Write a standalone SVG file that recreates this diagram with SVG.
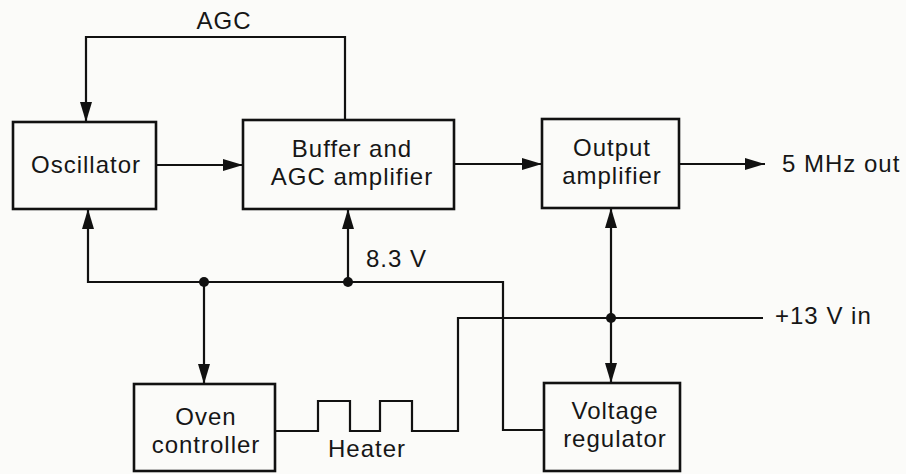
<svg xmlns="http://www.w3.org/2000/svg" width="906" height="474" viewBox="0 0 906 474">
<defs>
<marker id="ah" viewBox="0 0 20 12" refX="20" refY="6" markerWidth="20" markerHeight="12" markerUnits="userSpaceOnUse" orient="auto">
<path d="M0,0 L20,6 L0,12 Z" fill="#111"/>
</marker>
<style>
.box{fill:none;stroke:#111;stroke-width:2.6}
.w{fill:none;stroke:#111;stroke-width:2.2;stroke-linejoin:miter}
.a{marker-end:url(#ah)}
.t{font-family:"Liberation Sans",Arial,sans-serif;font-size:24px;fill:#161616;letter-spacing:1px}
.c{text-anchor:middle}
.dot{fill:#111}
</style>
</defs>
<rect width="906" height="474" fill="#fbfbf9"/>
<g id="oscillator">
<rect class="box" x="13" y="122" width="143" height="87"/>
<text class="t c" x="86" y="173">Oscillator</text>
</g>
<g id="buffer">
<rect class="box" x="243" y="120" width="211" height="89"/>
<text class="t c" x="352" y="157">Buffer and</text>
<text class="t c" x="352" y="185">AGC amplifier</text>
</g>
<g id="output">
<rect class="box" x="542" y="119" width="137" height="89"/>
<text class="t c" x="612" y="156">Output</text>
<text class="t c" x="612" y="184">amplifier</text>
</g>
<g id="oven">
<rect class="box" x="134" y="384" width="141" height="87"/>
<text class="t c" x="206" y="425">Oven</text>
<text class="t c" x="206" y="453">controller</text>
</g>
<g id="regulator">
<rect class="box" x="544" y="383" width="136" height="88"/>
<text class="t c" x="615" y="419">Voltage</text>
<text class="t c" x="615" y="447">regulator</text>
</g>
<g id="connectors">
<path class="w a" d="M345,120 V37 H86 V122"/>
<path class="w a" d="M156,165 H243"/>
<path class="w a" d="M454,164 H542"/>
<path class="w a" d="M679,164 H765"/>
<path class="w a" d="M544,430 H503 V282 H88 V209"/>
<path class="w a" d="M348,282 V209"/>
<path class="w a" d="M204,282 V384"/>
<path class="w" d="M763,318 H458 V431 H412 V401 H380 V431 H350 V401 H318 V431 H275"/>
<path class="w a" d="M611,318 V208"/>
<path class="w a" d="M611,318 V383"/>
<circle class="dot" cx="204" cy="282" r="5"/>
<circle class="dot" cx="348" cy="282" r="5"/>
<circle class="dot" cx="611" cy="318" r="5"/>
</g>
<g id="labels">
<text class="t c" x="224" y="29">AGC</text>
<text class="t" x="366" y="267">8.3 V</text>
<text class="t" x="782" y="172">5 MHz out</text>
<text class="t" x="775" y="324">+13 V in</text>
<text class="t c" x="367" y="457">Heater</text>
</g>
</svg>
